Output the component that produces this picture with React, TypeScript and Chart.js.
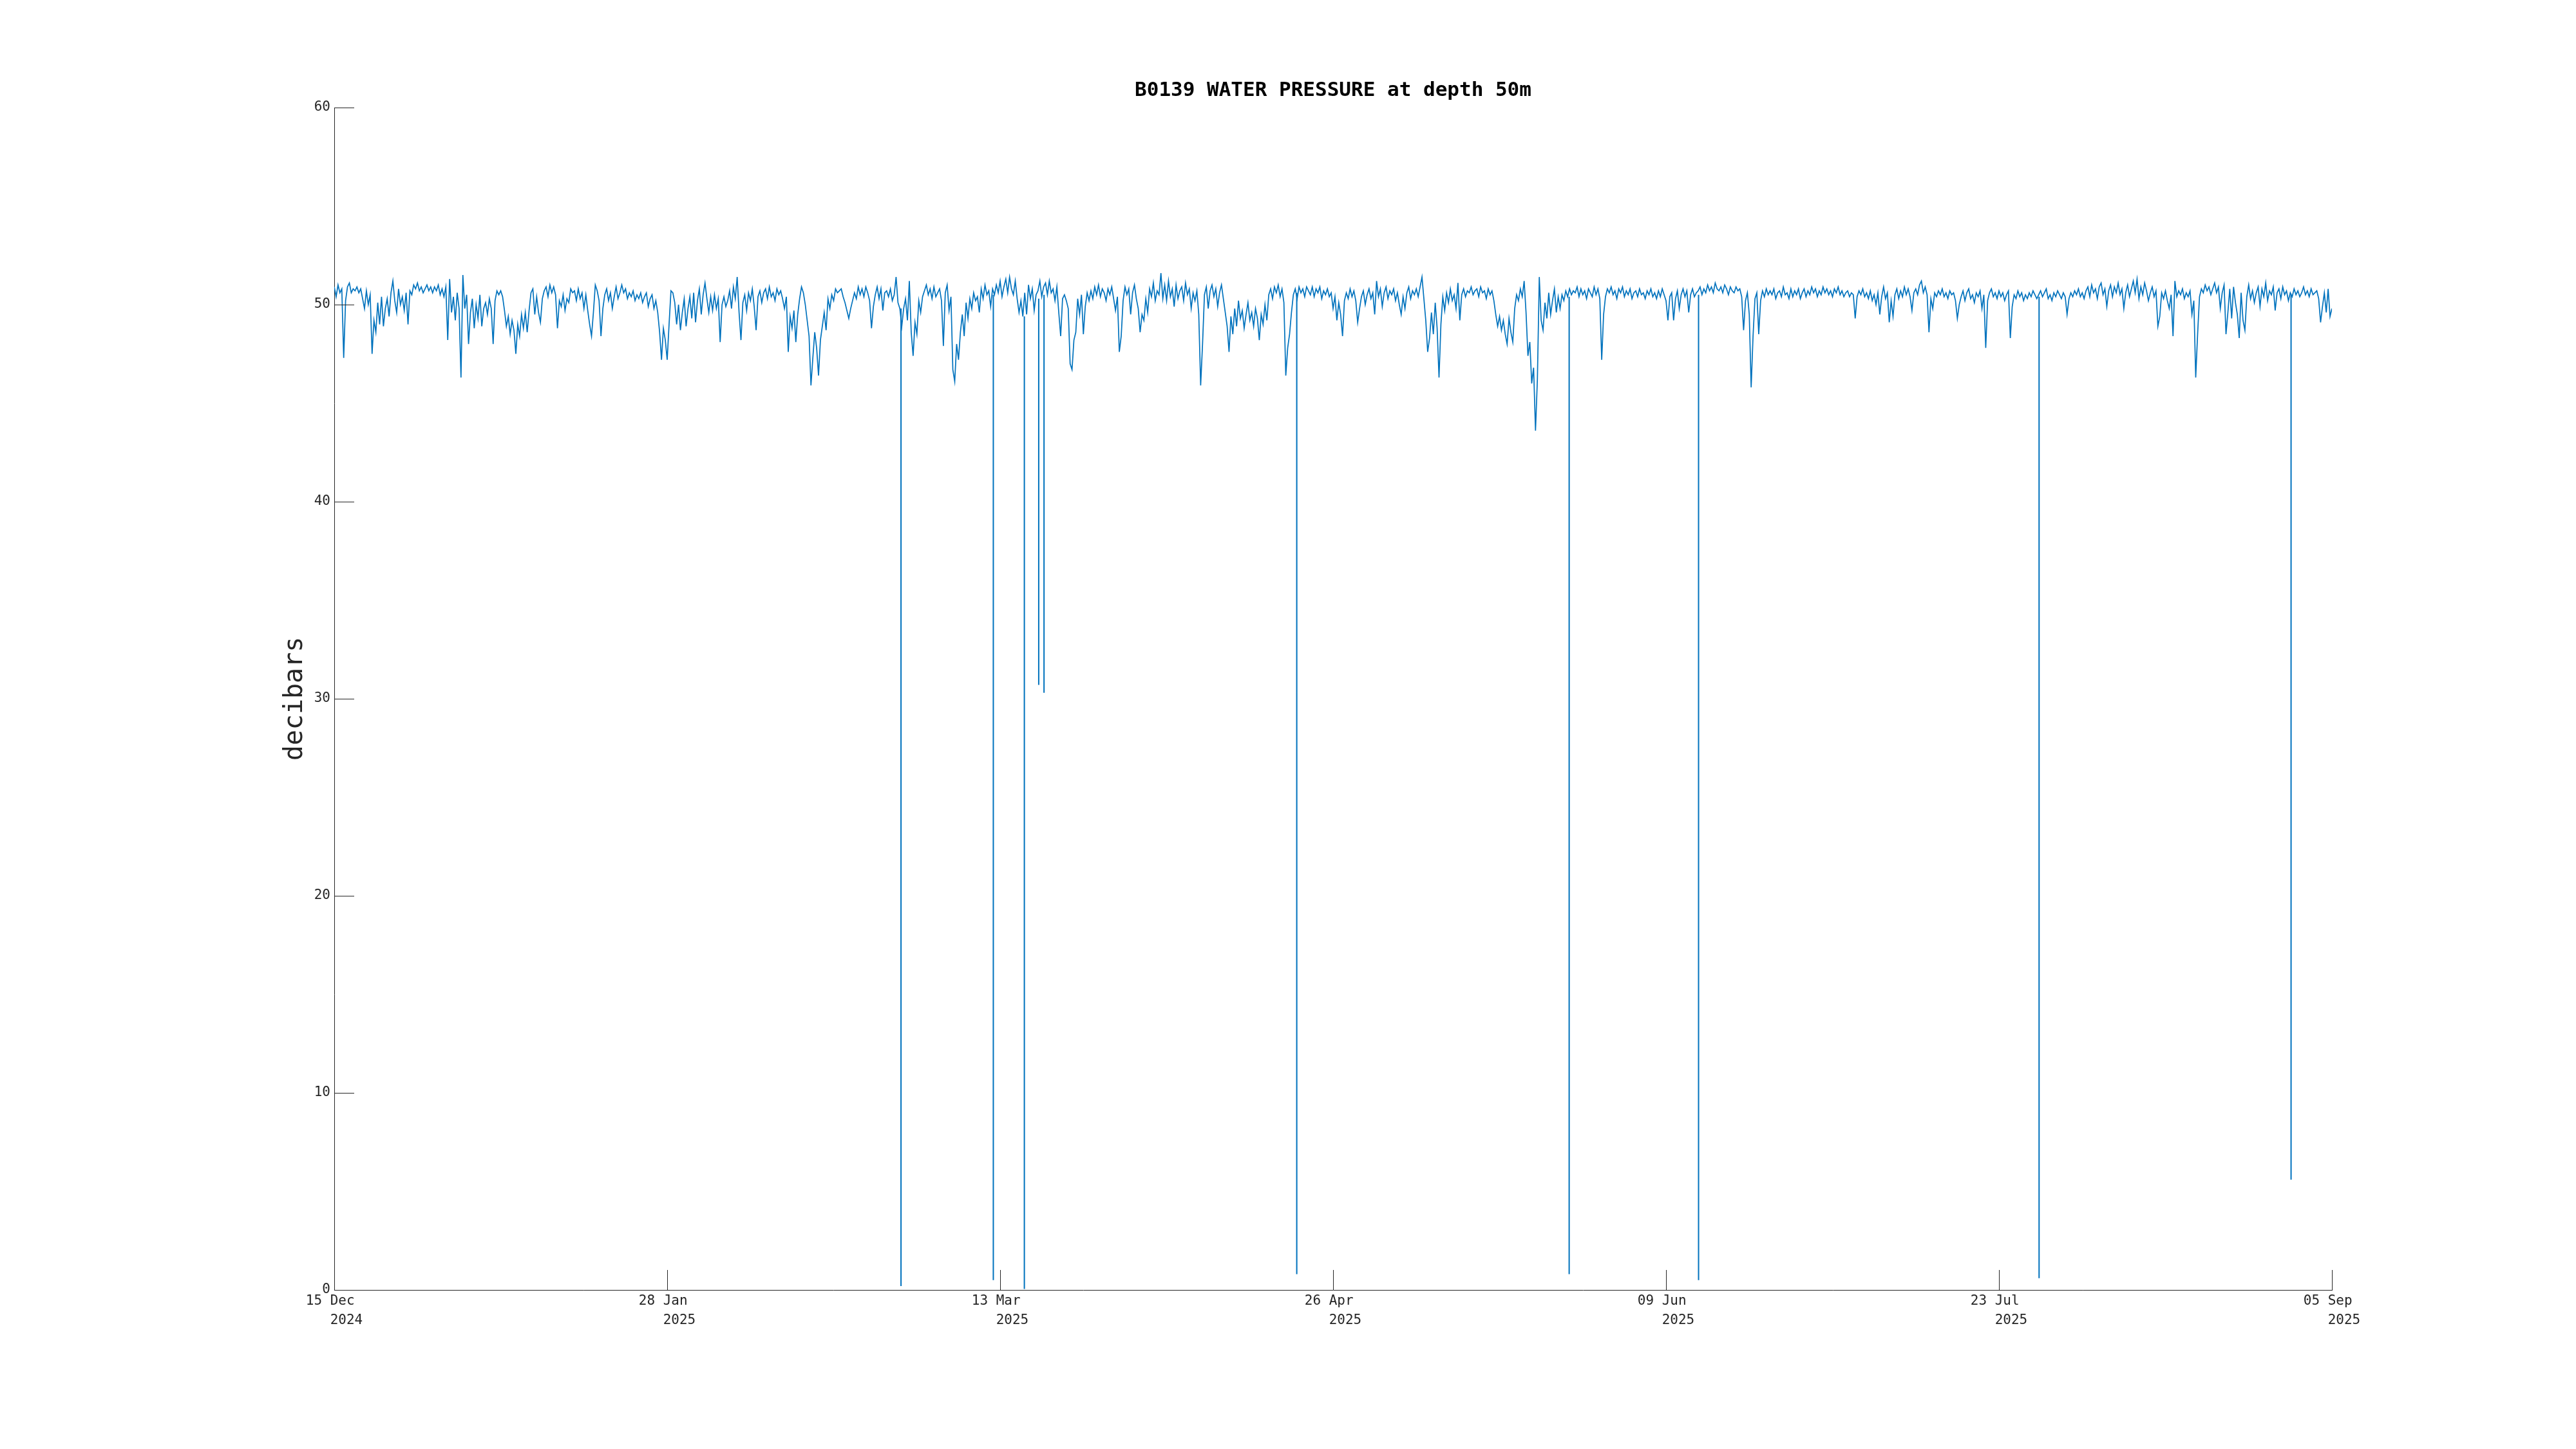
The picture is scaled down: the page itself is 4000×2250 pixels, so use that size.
import React, { useEffect, useRef } from "react";
import { Chart, registerables } from "chart.js";

Chart.register(...registerables);

const TITLE = "B0139 WATER PRESSURE at depth 50m";
const Y_LABEL = "decibars";

// x axis: days since 15 Dec 2024
const xTickDays = [0, 44, 88, 132, 176, 220, 264];
const xTickLabels = [
  ["15 Dec ", "   2024"],
  ["28 Jan ", "   2025"],
  ["13 Mar ", "   2025"],
  ["26 Apr ", "   2025"],
  ["09 Jun ", "   2025"],
  ["23 Jul ", "   2025"],
  ["05 Sep ", "   2025"],
];
const yTickValues = [0, 10, 20, 30, 40, 50, 60];

// regular samples, one every 6 hours starting 15 Dec 2024
const SAMPLE_INTERVAL_DAYS = 0.25;
const pressure = [
  50.9, 50.4, 51.0, 50.6, 50.8, 47.3, 50.2, 50.9, 51.1, 50.6, 50.8, 50.7, 50.9, 50.6, 50.8, 50.3, 49.8, 50.7, 50.0, 50.5,
  47.5, 49.2, 48.6, 50.1, 49.0, 50.4, 48.9, 49.8, 50.3, 49.4, 50.6, 51.2, 50.2, 49.6, 50.8, 50.0, 50.4, 49.7, 50.6, 49.0,
  50.7, 50.5, 51.0, 50.8, 51.1, 50.7, 50.9, 50.6, 50.8, 51.0, 50.7, 50.9, 50.6, 50.9, 50.7, 51.0, 50.5, 50.8, 50.4, 50.9,
  48.2, 51.3, 49.6, 50.4, 49.2, 50.6, 49.8, 46.3, 51.5, 49.8, 50.5, 48.0, 49.6, 50.3, 48.8, 50.0, 49.3, 50.5, 48.9, 49.8,
  50.1, 49.5, 50.3, 49.8, 48.0, 50.2, 50.7, 50.5, 50.7, 50.4, 49.7, 48.9, 49.4, 48.5, 49.2, 48.7, 47.5, 49.0, 48.4, 49.5,
  48.8, 49.6, 48.6, 49.7, 50.6, 50.8, 49.5, 50.4, 49.6, 49.1, 50.3, 50.7, 50.9, 50.4, 51.0, 50.6, 50.9, 50.5, 48.8, 50.2,
  49.9, 50.5, 49.7, 50.3, 50.1, 50.8, 50.6, 50.7, 50.2, 50.8, 50.3, 50.6, 49.8, 50.5, 49.7, 49.0, 48.4, 49.6, 51.0, 50.7,
  50.2, 48.4, 49.8, 50.5, 50.8, 50.2, 50.6, 49.8, 50.4, 50.9, 50.3, 50.6, 51.0, 50.6, 50.8, 50.3, 50.6, 50.4, 50.7, 50.2,
  50.5, 50.3, 50.6, 50.1, 50.4, 50.6, 49.9, 50.3, 50.5, 49.8, 50.2, 49.6, 48.6, 47.2, 48.8, 48.2, 47.2, 49.0, 50.7, 50.6,
  50.1, 49.0, 50.0, 48.7, 49.6, 50.3, 48.9, 49.8, 50.4, 49.3, 50.6, 49.1, 50.2, 50.8, 49.5, 50.5, 51.1, 50.3, 49.6, 50.4,
  49.7, 50.5, 49.8, 50.3, 48.1, 50.0, 50.4, 49.9, 50.2, 50.7, 49.8, 50.9, 50.3, 51.4, 49.6, 48.2, 50.1, 50.5, 49.7, 50.6,
  50.2, 50.8, 49.9, 48.7, 50.4, 50.7, 50.1, 50.6, 50.8, 50.3, 50.9, 50.4, 50.6, 50.2, 50.8, 50.5, 50.7, 50.3, 49.8, 50.4,
  47.6, 49.4, 48.8, 49.7, 48.1, 49.5, 50.3, 50.9, 50.6, 50.0, 49.2, 48.4, 45.9, 47.3, 48.6, 47.8, 46.4, 48.2, 48.9, 49.6,
  48.7, 50.3, 49.8, 50.5, 50.2, 50.8, 50.6, 50.7, 50.8, 50.4, 50.1, 49.7, 49.3, 49.8, 50.2, 50.6, 50.3, 50.9, 50.5, 50.8,
  50.4, 50.9, 50.6, 50.2, 48.8, 49.9, 50.5, 50.9, 50.3, 50.8, 49.7, 50.6, 50.7, 50.4, 50.8, 50.2, 50.5, 51.4, 50.1, 49.8,
  48.9, 49.8, 50.3, 49.2, 51.2, 48.6, 47.4, 49.1, 48.5, 50.2, 49.6, 50.4, 50.7, 51.0, 50.5, 50.8, 50.3, 50.9, 50.4, 50.6,
  50.8, 50.2, 47.9, 50.6, 51.0, 49.7, 50.4, 46.7, 46.1, 48.0, 47.2, 48.6, 49.5, 48.4, 50.1, 49.3, 50.3, 49.8, 50.6, 50.2,
  50.4, 49.6, 50.8, 50.3, 51.0, 50.5, 50.7, 49.9, 50.8, 50.5, 51.0, 50.6, 51.2, 50.4, 50.9, 51.3, 50.6, 51.4, 50.8, 50.5,
  51.2, 50.3, 49.6, 50.2, 49.4, 50.6, 49.5, 51.0, 50.3, 50.8, 49.7, 50.5, 50.7, 51.2, 50.4, 50.9, 51.1, 50.5, 51.2, 50.6,
  50.8, 50.2, 50.9, 49.6, 48.4, 50.3, 50.5, 50.2, 49.8, 47.0, 46.7, 48.2, 48.6, 50.3, 49.5, 50.5, 48.5, 49.9, 50.6, 50.2,
  50.7, 50.3, 50.9, 50.5, 51.0, 50.4, 50.8, 50.6, 50.2, 50.8, 50.5, 50.9, 50.3, 49.7, 50.4, 47.6, 48.4, 50.2, 50.9, 50.5,
  50.8, 49.5, 50.6, 51.0, 50.3, 49.8, 48.6, 49.5, 49.2, 50.3, 49.6, 50.8, 50.4, 51.1, 50.2, 50.7, 50.5, 51.6, 50.3, 51.0,
  50.2, 51.2, 50.4, 50.8, 49.9, 51.0, 50.3, 50.7, 50.9, 50.2, 51.1, 50.5, 50.8, 49.8, 50.6, 50.2, 50.7, 49.5, 45.9, 48.0,
  50.5, 50.9, 49.8, 50.7, 51.0, 50.4, 50.8, 49.9, 50.6, 51.0, 50.3, 49.6, 48.9, 47.6, 49.4, 48.5, 49.8, 48.9, 50.2, 49.3,
  49.7, 48.8, 49.5, 50.1, 49.2, 49.6, 48.9, 49.8, 49.3, 48.2, 49.5, 49.0, 50.0, 49.2, 50.5, 50.8, 50.3, 50.9, 50.6, 51.0,
  50.4, 50.8, 50.1, 46.4, 47.8, 48.5, 49.6, 50.5, 50.8, 50.3, 50.9, 50.6, 50.8, 50.4, 50.9, 50.7, 50.5, 50.9, 50.4, 50.8,
  50.6, 50.9, 50.3, 50.7, 50.5, 50.8, 50.4, 50.6, 49.8, 50.4, 49.2, 50.1, 49.5, 48.4, 50.2, 50.6, 50.3, 50.8, 50.4, 50.7,
  50.2, 49.1, 49.8, 50.4, 50.7, 50.0, 50.5, 50.8, 50.3, 50.6, 49.5, 51.2, 50.4, 50.8, 49.9, 50.6, 50.9, 50.3, 50.7, 50.5,
  50.8, 50.2, 50.6, 50.0, 49.5, 50.4, 49.8, 50.6, 50.9, 50.3, 50.7, 50.5, 50.8, 50.4, 50.9, 51.4, 50.3, 49.2, 47.6, 48.3,
  49.6, 48.5, 50.1, 48.8, 46.3, 49.0, 50.4, 49.7, 50.6, 50.1, 50.8, 50.2, 50.5, 49.8, 51.1, 49.2, 50.5, 50.8, 50.4, 50.7,
  50.6, 50.9, 50.5, 50.7, 50.8, 50.4, 50.9, 50.6, 50.7, 50.3, 50.8, 50.5, 50.7, 50.2, 49.5, 48.9, 49.4, 48.7, 49.2, 48.5,
  48.0, 49.3, 48.6, 48.1, 49.8, 50.5, 50.2, 50.8, 50.4, 51.2, 49.6, 47.4, 48.1, 46.0, 46.8, 43.6, 46.2, 51.4, 49.2, 48.7,
  50.1, 49.3, 50.6, 49.5, 50.2, 50.8, 49.6, 50.4, 49.8, 50.5, 50.2, 50.7, 50.4, 50.8, 50.5, 50.7, 50.6, 50.9, 50.4, 50.8,
  50.5, 50.7, 50.3, 50.8, 50.6, 50.4, 50.9, 50.5, 50.8, 50.3, 47.2, 49.5, 50.4, 50.8, 50.6, 50.9, 50.5, 50.7, 50.3, 50.8,
  50.6, 50.9, 50.4, 50.7, 50.5, 50.8, 50.3, 50.6, 50.7, 50.4, 50.8, 50.5, 50.6, 50.3, 50.7, 50.5, 50.8, 50.4, 50.6, 50.3,
  50.7, 50.4, 50.8, 50.5, 50.2, 49.2, 50.4, 50.6, 49.2, 50.3, 50.7, 49.8, 50.5, 50.8, 50.4, 50.7, 49.6, 50.5, 50.8, 50.4,
  50.6, 50.7, 50.9, 50.5, 50.8, 50.6, 51.0, 50.7, 50.9, 50.6, 51.1, 50.8, 50.7, 50.9, 50.6, 51.0, 50.8, 50.5, 50.9, 50.7,
  50.6, 50.9, 50.7, 50.8, 50.4, 48.7, 50.2, 50.6, 49.5, 45.8, 48.4, 50.3, 50.6, 48.5, 50.2, 50.7, 50.4, 50.8, 50.5, 50.7,
  50.5, 50.8, 50.3, 50.6, 50.7, 50.4, 50.9, 50.5, 50.6, 50.3, 50.8, 50.4, 50.7, 50.5, 50.8, 50.3, 50.6, 50.8, 50.4, 50.7,
  50.5, 50.9, 50.6, 50.8, 50.4, 50.7, 50.5, 50.9, 50.6, 50.8, 50.5, 50.7, 50.4, 50.8, 50.6, 50.9, 50.5, 50.7, 50.4, 50.6,
  50.7, 50.4, 50.6, 50.5, 49.3, 50.4, 50.7, 50.5, 50.8, 50.4, 50.6, 50.3, 50.7, 50.2, 50.5, 50.0, 50.6, 49.5, 50.4, 50.9,
  50.3, 50.6, 49.1, 50.2, 49.4, 50.5, 50.8, 50.3, 50.7, 50.4, 50.9, 50.5, 50.8, 50.4, 49.7, 50.6, 50.8, 50.5, 51.0, 51.2,
  50.6, 50.9, 50.5, 48.6, 50.3, 49.8, 50.6, 50.4, 50.7, 50.5, 50.8, 50.4, 50.6, 50.3, 50.7, 50.5, 50.6, 50.2, 49.3, 50.0,
  50.4, 50.7, 50.2, 50.6, 50.8, 50.3, 50.5, 50.1, 50.6, 50.4, 50.7, 49.8, 50.5, 47.8, 50.2, 50.6, 50.8, 50.4, 50.6, 50.3,
  50.7, 50.4, 50.6, 50.2, 50.5, 50.7, 48.3, 49.9, 50.5, 50.3, 50.7, 50.4, 50.6, 50.2, 50.5, 50.3, 50.6, 50.4, 50.7, 50.5,
  50.3, 50.5, 50.7, 50.4, 50.6, 50.8, 50.3, 50.5, 50.2, 50.6, 50.4, 50.7, 50.5, 50.3, 50.6, 50.4, 49.5, 50.3, 50.6, 50.4,
  50.7, 50.5, 50.8, 50.4, 50.6, 50.3, 50.7, 50.9, 50.4, 51.0, 50.6, 50.8, 50.3, 50.9, 51.1, 50.5, 50.8, 49.9, 50.7, 51.0,
  50.4, 50.9, 50.6, 51.1, 50.5, 50.8, 49.8, 50.6, 51.0, 50.4, 50.8, 51.2, 50.6, 51.3, 50.3, 50.9, 50.5, 51.1, 50.7, 50.2,
  50.6, 50.9, 50.4, 50.7, 48.9, 49.4, 50.6, 50.3, 50.7, 50.2, 49.8, 50.5, 48.4, 51.2, 50.4, 50.7, 50.5, 50.8, 50.3, 50.6,
  50.4, 50.7, 49.5, 50.2, 46.3, 48.5, 50.4, 50.8, 50.6, 51.0, 50.7, 50.9, 50.5, 50.8, 51.1, 50.6, 50.9, 49.8, 50.6, 51.0,
  48.5, 49.6, 50.8, 49.3, 50.9, 50.1, 49.5, 48.3, 50.6, 49.2, 48.7, 50.4, 51.0, 50.3, 50.7, 50.1, 50.6, 50.9, 49.9, 50.8,
  50.4, 51.1, 50.2, 50.7, 50.5, 50.9, 49.7, 50.6, 50.8, 50.3, 50.9, 50.5, 50.7, 50.2, 50.6, 50.4, 50.8, 50.5, 50.7, 50.4,
  50.6, 50.9, 50.5, 50.7, 50.4, 50.8, 50.5, 50.6, 50.7, 50.3, 49.1, 49.9, 50.6, 49.6, 50.8, 49.4, 49.8,
];

// brief dropouts (day since 15 Dec 2024, level before the drop, lowest value)
const spikeDays = [74.9, 87.1, 91.2, 93.1, 93.8, 127.2, 163.2, 180.3, 225.3, 258.6];
const spikeTops = [49.8, 50.5, 49.4, 50.3, 50.5, 50.6, 50.4, 50.5, 50.4, 50.5];
const spikeLows = [0.2, 0.5, 0.05, 30.7, 30.3, 0.8, 0.8, 0.5, 0.6, 5.6];

const FONT = "'DejaVu Sans Mono', monospace";
const AXIS_COLOR = "#262626";
const LINE_COLOR = "#0072BD";

const inwardTicks = {
  id: "inwardTicks",
  afterDraw(chart: any) {
    const { ctx, chartArea, scales } = chart;
    const len = 31;
    ctx.save();
    ctx.strokeStyle = AXIS_COLOR;
    ctx.lineWidth = 1;
    ctx.beginPath();
    for (const v of yTickValues) {
      const y = Math.round(scales.y.getPixelForValue(v)) + 0.5;
      ctx.moveTo(chartArea.left, y);
      ctx.lineTo(chartArea.left + len, y);
    }
    for (const d of xTickDays) {
      const x = Math.round(scales.x.getPixelForValue(d)) + 0.5;
      ctx.moveTo(x, chartArea.bottom);
      ctx.lineTo(x, chartArea.bottom - len);
    }
    ctx.stroke();
    ctx.restore();
  },
};

export default function App() {
  const canvasRef = useRef<HTMLCanvasElement | null>(null);

  useEffect(() => {
    const canvas = canvasRef.current;
    if (!canvas) return;

    const mainPoints = pressure.map((p, i) => ({ x: i * SAMPLE_INTERVAL_DAYS, y: p }));
    const spikePoints: { x: number; y: number | null }[] = [];
    spikeDays.forEach((d, i) => {
      spikePoints.push({ x: d, y: spikeTops[i] });
      spikePoints.push({ x: d, y: spikeLows[i] });
      spikePoints.push({ x: d, y: null });
    });

    const chart = new Chart(canvas, {
      type: "line",
      data: {
        datasets: [
          {
            data: mainPoints,
            borderColor: LINE_COLOR,
            borderWidth: 1.7,
            pointRadius: 0,
            tension: 0,
            fill: false,
          },
          {
            data: spikePoints as any,
            borderColor: LINE_COLOR,
            borderWidth: 2,
            pointRadius: 0,
            tension: 0,
            fill: false,
            spanGaps: false,
          },
        ],
      },
      options: {
        responsive: false,
        animation: false,
        devicePixelRatio: 1,
        layout: { padding: { top: 0, left: 400, right: 379, bottom: 97 } },
        plugins: {
          legend: { display: false },
          tooltip: { enabled: false },
          title: {
            display: true,
            fullSize: false,
            text: TITLE,
            color: "#000000",
            font: { family: FONT, size: 31, weight: "bold", lineHeight: 1.2 },
            padding: { top: 122.7, bottom: 7.1 },
          },
        },
        scales: {
          x: {
            type: "linear",
            min: 0,
            max: 264,
            grid: { display: false, drawTicks: false, tickLength: 0 },
            border: { display: true, color: AXIS_COLOR, width: 1 },
            afterBuildTicks: (scale: any) => {
              scale.ticks = xTickDays.map((v) => ({ value: v }));
            },
            afterFit: (scale: any) => {
              scale.height = 150;
            },
            ticks: {
              autoSkip: false,
              maxRotation: 0,
              minRotation: 0,
              padding: 3,
              color: AXIS_COLOR,
              font: { family: FONT, size: 21, lineHeight: 1.4 },
              callback: (value: any) => xTickLabels[xTickDays.indexOf(Number(value))] ?? "",
            },
          },
          y: {
            type: "linear",
            min: 0,
            max: 60,
            grid: { display: false, drawTicks: false, tickLength: 0 },
            border: { display: true, color: AXIS_COLOR, width: 1 },
            afterBuildTicks: (scale: any) => {
              scale.ticks = yTickValues.map((v) => ({ value: v }));
            },
            afterFit: (scale: any) => {
              scale.width = 119;
            },
            ticks: {
              padding: 6,
              color: AXIS_COLOR,
              font: { family: FONT, size: 21, lineHeight: 1.2 },
              callback: (value: any) => String(value),
            },
            title: {
              display: true,
              text: Y_LABEL,
              color: AXIS_COLOR,
              font: { family: FONT, size: 40, lineHeight: 1.2 },
              padding: { top: 35, bottom: 0 },
            },
          },
        },
      },
      plugins: [inwardTicks],
    });

    return () => {
      chart.destroy();
    };
  }, []);

  return (
    <div style={{ position: "fixed", left: 0, top: 0, width: 4000, height: 2250, background: "#ffffff" }}>
      <canvas ref={canvasRef} width={4000} height={2250} style={{ display: "block" }} />
    </div>
  );
}
